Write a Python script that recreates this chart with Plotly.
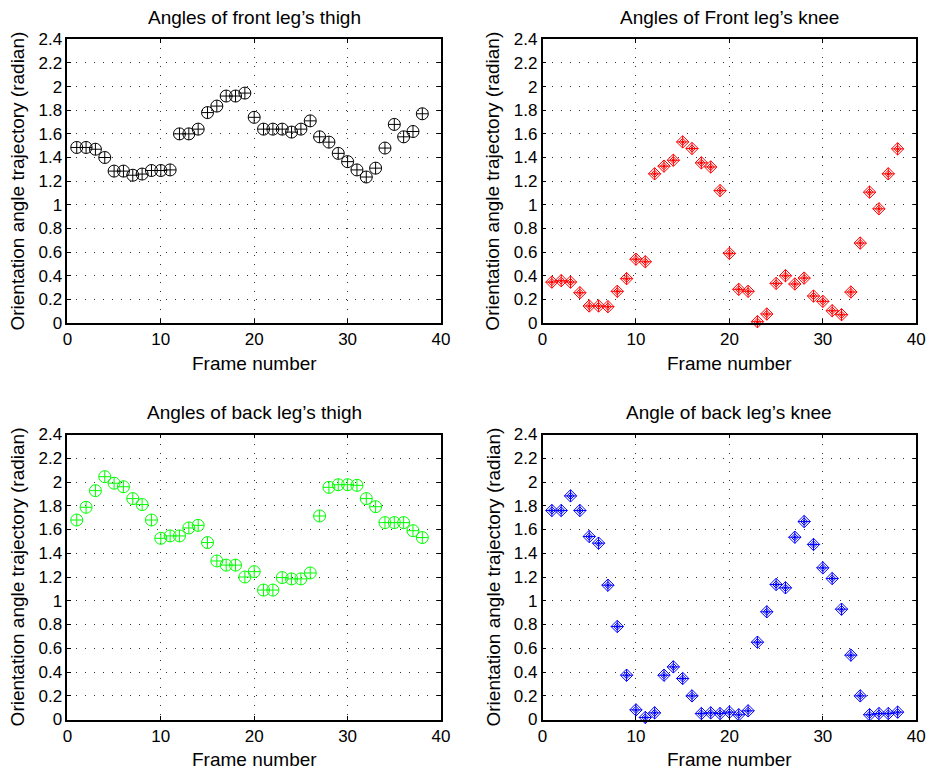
import plotly.graph_objects as go

frames = list(range(1, 39))

front_thigh = [1.485, 1.485, 1.47, 1.40, 1.285, 1.285, 1.25, 1.26, 1.29, 1.29, 1.295,
               1.60, 1.60, 1.64, 1.78, 1.835, 1.92, 1.92, 1.945, 1.74, 1.64, 1.64, 1.64,
               1.615, 1.64, 1.71, 1.575, 1.53, 1.435, 1.365, 1.295, 1.235, 1.31, 1.48,
               1.68, 1.575, 1.62, 1.77]

front_knee = [0.346, 0.358, 0.346, 0.256, 0.144, 0.144, 0.138, 0.268, 0.375, 0.54, 0.518,
              1.262, 1.327, 1.377, 1.532, 1.476, 1.355, 1.32, 1.12, 0.589, 0.285, 0.268,
              0.011, 0.076, 0.335, 0.40, 0.33, 0.38, 0.228, 0.183, 0.104, 0.07, 0.262,
              0.676, 1.107, 0.966, 1.262, 1.473]

back_thigh = [1.68, 1.787, 1.927, 2.045, 1.99, 1.96, 1.86, 1.81, 1.68, 1.526, 1.546, 1.546,
              1.613, 1.635, 1.49, 1.335, 1.30, 1.30, 1.20, 1.245, 1.09, 1.09, 1.195, 1.184,
              1.184, 1.234, 1.714, 1.955, 1.977, 1.977, 1.972, 1.86, 1.792, 1.658, 1.658,
              1.658, 1.59, 1.532]

back_knee = [1.76, 1.76, 1.883, 1.76, 1.541, 1.485, 1.131, 0.783, 0.373, 0.081, 0.017, 0.056,
             0.373, 0.443, 0.345, 0.199, 0.05, 0.056, 0.05, 0.062, 0.04, 0.073, 0.651, 0.907,
             1.137, 1.109, 1.535, 1.667, 1.474, 1.277, 1.187, 0.929, 0.542, 0.199, 0.04,
             0.05, 0.05, 0.062]

titles = ["Angles of front leg\u2019s thigh", "Angles of Front leg\u2019s knee",
          "Angles of back leg\u2019s thigh", "Angle of back leg\u2019s knee"]
x_label = "Frame number"
y_label = "Orientation angle trajectory (radian)"
y_tickvals = [0, 0.2, 0.4, 0.6, 0.8, 1, 1.2, 1.4, 1.6, 1.8, 2, 2.2, 2.4]
y_ticktext = ["0", "0.2", "0.4", "0.6", "0.8", "1", "1.2", "1.4", "1.6", "1.8", "2", "2.2", "2.4"]
x_tickvals = [0, 10, 20, 30, 40]
x_ticktext = ["0", "10", "20", "30", "40"]

W, H = 931, 770
FONT = "Liberation Sans, Arial, Helvetica, sans-serif"

# panel pixel boxes (left, right, top, bottom)
boxes = [(67.4, 441.0, 39.3, 323.0), (542.5, 916.3, 39.3, 323.0),
         (67.4, 441.0, 434.5, 719.5), (542.5, 916.3, 434.5, 719.5)]

fig = go.Figure()

series = [
    (front_thigh, "circle", "#000000"),
    (front_knee, "diamond", "#ff0000"),
    (back_thigh, "circle", "#00ff00"),
    (back_knee, "diamond", "#0000ff"),
]

layout_axes = {}
annotations = []
for i, ((vals, kind, col), (l, r, t, b), title) in enumerate(zip(series, boxes, titles)):
    n = i + 1
    xa = "x" if n == 1 else f"x{n}"
    ya = "y" if n == 1 else f"y{n}"
    if kind == "circle":
        fig.add_trace(go.Scatter(x=frames, y=vals, mode="markers", xaxis=xa, yaxis=ya,
                                 cliponaxis=False, showlegend=False,
                                 marker=dict(symbol="circle-cross-open", size=12, color=col,
                                             line=dict(width=1, color=col))))
    else:
        fig.add_trace(go.Scatter(x=frames, y=vals, mode="markers", xaxis=xa, yaxis=ya,
                                 cliponaxis=False, showlegend=False,
                                 marker=dict(symbol="diamond-cross-open", size=9.5, color=col,
                                             line=dict(width=1, color=col))))
        fig.add_trace(go.Scatter(x=frames, y=vals, mode="markers", xaxis=xa, yaxis=ya,
                                 cliponaxis=False, showlegend=False,
                                 marker=dict(symbol="diamond-open", size=5.5, color=col,
                                             line=dict(width=1, color=col))))
        fig.add_trace(go.Scatter(x=frames, y=vals, mode="markers", xaxis=xa, yaxis=ya,
                                 cliponaxis=False, showlegend=False,
                                 marker=dict(symbol="circle", size=3, color=col,
                                             line=dict(width=0))))
    dx = [l / W, r / W]
    dy = [1 - b / H, 1 - t / H]
    common = dict(showline=True, linecolor="black", linewidth=1.5, mirror="ticks",
                  ticks="inside", ticklen=4, tickcolor="black", tickwidth=1,
                  showgrid=True, gridcolor="#333333", gridwidth=1, griddash="1px,8px",
                  zeroline=False, automargin=False,
                  tickfont=dict(family=FONT, size=17, color="black"))
    layout_axes["xaxis" if n == 1 else f"xaxis{n}"] = dict(
        domain=dx, range=[0, 40], anchor=ya, tickvals=x_tickvals, ticktext=x_ticktext, **common)
    layout_axes["yaxis" if n == 1 else f"yaxis{n}"] = dict(
        domain=dy, range=[0, 2.4], anchor=xa, tickvals=y_tickvals, ticktext=y_ticktext, **common)
    cx = (l + r) / 2 / W
    annotations.append(dict(text=title, x=cx, y=1 - (t - 22) / H, xref="paper", yref="paper",
                            xanchor="center", yanchor="middle", showarrow=False,
                            font=dict(family=FONT, size=19, color="black")))
    annotations.append(dict(text=x_label, x=cx, y=1 - (b + 40) / H, xref="paper", yref="paper",
                            xanchor="center", yanchor="middle", showarrow=False,
                            font=dict(family=FONT, size=19, color="black")))
    annotations.append(dict(text=y_label, x=(l - 50) / W, y=1 - (t + b) / 2 / H,
                            xref="paper", yref="paper", textangle=-90,
                            xanchor="center", yanchor="middle", showarrow=False,
                            font=dict(family=FONT, size=19, color="black")))

fig.update_layout(width=W, height=H, margin=dict(l=0, r=0, t=0, b=0),
                  paper_bgcolor="white", plot_bgcolor="white",
                  annotations=annotations, **layout_axes)

fig.write_html("out.html")
